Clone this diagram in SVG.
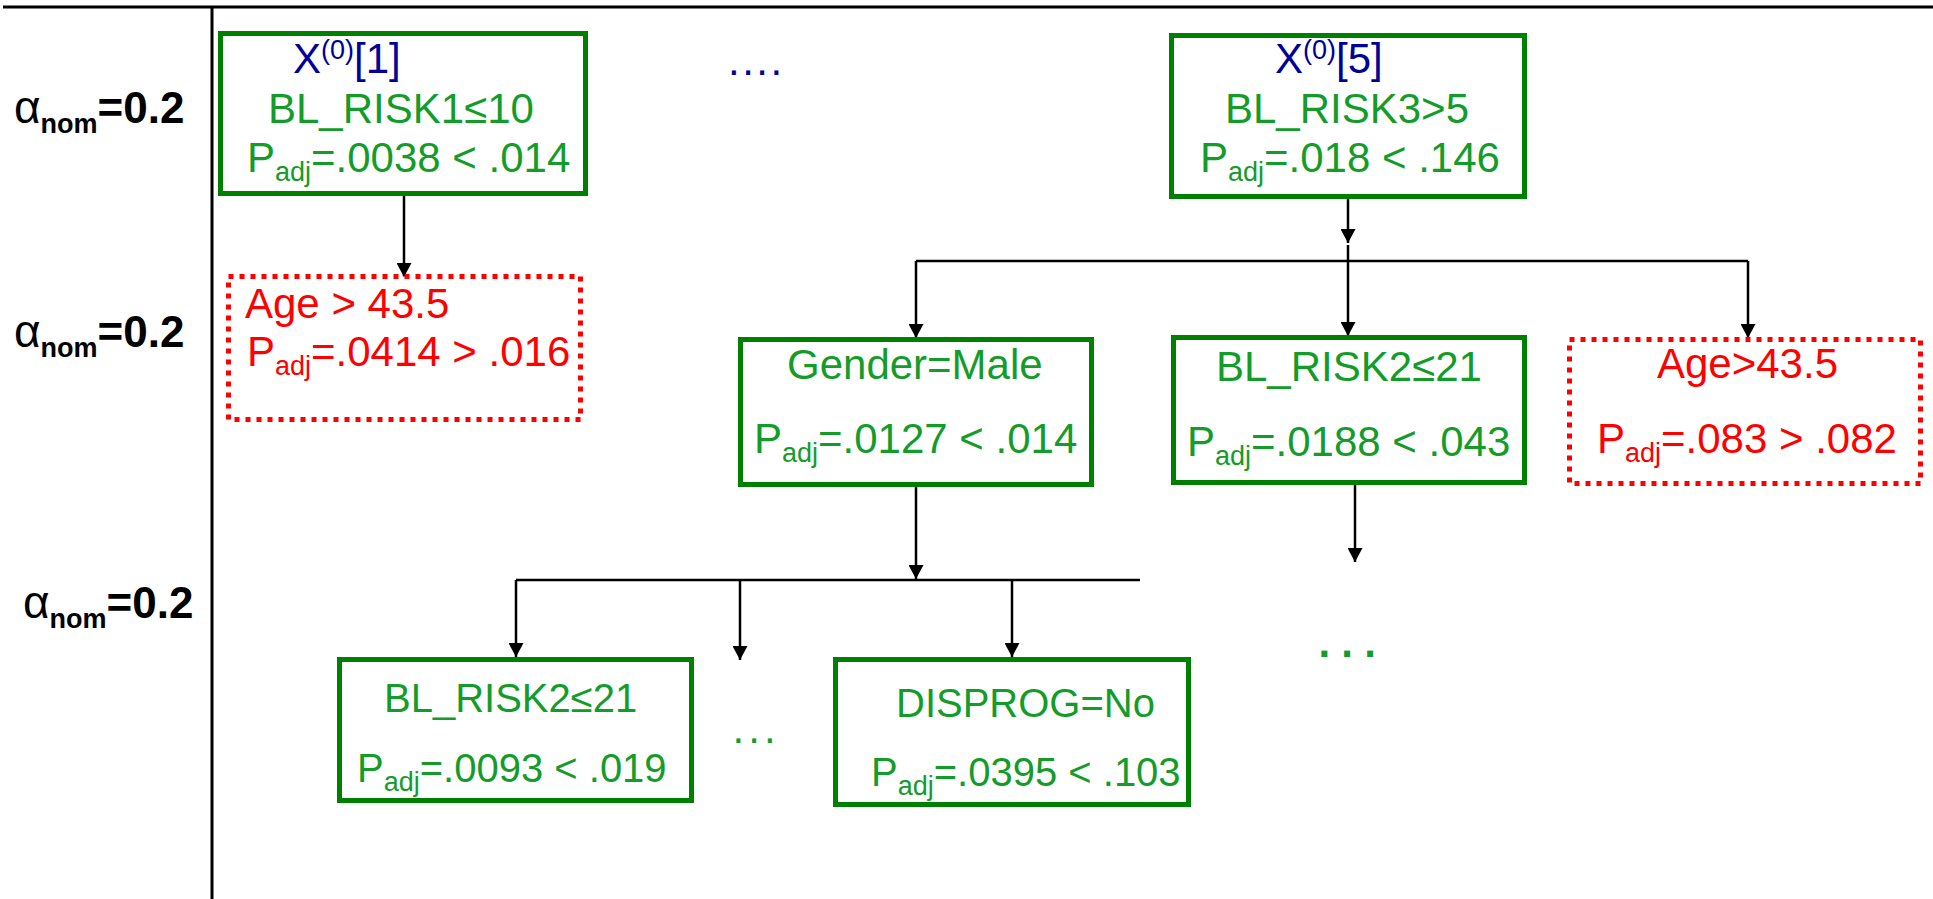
<svg xmlns="http://www.w3.org/2000/svg" width="1933" height="899" viewBox="0 0 1933 899">
<style>
text{font-family:"Liberation Sans",Arial,sans-serif;font-size:42px}
.g{fill:#139c2a}
.b{fill:#000099}
.r{fill:#ff0000}
.k{fill:#000;font-weight:bold;font-size:44px}
.al{font-weight:normal;font-size:46px}
.s{font-size:27px}
.sm{font-size:40px}
.ok{fill:#fff;stroke:#008000;stroke-width:5}
.bad{fill:#fff;stroke:#ff0000;stroke-width:5;stroke-dasharray:5 6}
.c{stroke:#000;stroke-width:2.5;fill:none}
.ca{stroke:#000;stroke-width:2.5;fill:none;marker-end:url(#ah)}
</style>
<defs>
<marker id="ah" viewBox="0 0 14 15" refX="14" refY="7.5" markerWidth="14" markerHeight="15" markerUnits="userSpaceOnUse" orient="auto">
<path d="M0,0 L14,7.5 L0,15 z" fill="#000"/>
</marker>
</defs>
<rect width="1933" height="899" fill="#fff"/>
<g id="frame">
<line x1="3" y1="7" x2="1933" y2="7" stroke="#000" stroke-width="3"/>
<line x1="212" y1="7" x2="212" y2="899" stroke="#000" stroke-width="3"/>
</g>
<g id="levels">
<text class="k" x="14" y="123"><tspan class="al">α</tspan><tspan class="s" dy="10">nom</tspan><tspan dy="-10">=0.2</tspan></text>
<text class="k" x="14" y="347"><tspan class="al">α</tspan><tspan class="s" dy="10">nom</tspan><tspan dy="-10">=0.2</tspan></text>
<text class="k" x="23" y="618"><tspan class="al">α</tspan><tspan class="s" dy="10">nom</tspan><tspan dy="-10">=0.2</tspan></text>
</g>
<g id="connectors">
<line class="ca" x1="404" y1="196" x2="404" y2="277"/>
<line class="ca" x1="1348" y1="199" x2="1348" y2="243"/>
<line class="c" x1="916" y1="261" x2="1748" y2="261"/>
<line class="ca" x1="1348" y1="245" x2="1348" y2="336"/>
<line class="ca" x1="916" y1="261" x2="916" y2="338"/>
<line class="ca" x1="1748" y1="261" x2="1748" y2="338"/>
<line class="ca" x1="916" y1="487" x2="916" y2="579"/>
<line class="c" x1="516" y1="580" x2="1140" y2="580"/>
<line class="ca" x1="516" y1="580" x2="516" y2="657"/>
<line class="ca" x1="740" y1="580" x2="740" y2="660"/>
<line class="ca" x1="1012" y1="580" x2="1012" y2="657"/>
<line class="ca" x1="1355" y1="485" x2="1355" y2="562"/>
</g>
<g id="node-x1">
<rect class="ok" x="220.5" y="33.5" width="365" height="160"/>
<text class="b" x="293" y="73">X<tspan class="s" dy="-14">(0)</tspan><tspan dy="14">[1]</tspan></text>
<text class="g" x="268" y="123">BL_RISK1≤10</text>
<text class="g" x="247" y="172">P<tspan class="s" dy="9">adj</tspan><tspan dy="-9">=.0038 &lt; .014</tspan></text>
</g>
<g id="ellipsis-top">
<text class="b" x="728" y="75" letter-spacing="2.5">....</text>
</g>
<g id="node-x5">
<rect class="ok" x="1171.5" y="35.5" width="353" height="161"/>
<text class="b" x="1275" y="73">X<tspan class="s" dy="-14">(0)</tspan><tspan dy="14">[5]</tspan></text>
<text class="g" x="1225" y="123">BL_RISK3&gt;5</text>
<text class="g" x="1200" y="172">P<tspan class="s" dy="9">adj</tspan><tspan dy="-9">=.018 &lt; .146</tspan></text>
</g>
<g id="node-age1">
<rect class="bad" x="228.5" y="276.5" width="352" height="143"/>
<text class="r" x="245" y="318">Age &gt; 43.5</text>
<text class="r" x="247" y="366">P<tspan class="s" dy="9">adj</tspan><tspan dy="-9">=.0414 &gt; .016</tspan></text>
</g>
<g id="node-gender">
<rect class="ok" x="740.5" y="339.5" width="351" height="145"/>
<text class="g" x="787" y="379">Gender=Male</text>
<text class="g" x="754" y="453">P<tspan class="s" dy="9">adj</tspan><tspan dy="-9">=.0127 &lt; .014</tspan></text>
</g>
<g id="node-risk2a">
<rect class="ok" x="1173.5" y="337.5" width="351" height="145"/>
<text class="g" x="1216" y="381">BL_RISK2≤21</text>
<text class="g" x="1187" y="456">P<tspan class="s" dy="9">adj</tspan><tspan dy="-9">=.0188 &lt; .043</tspan></text>
</g>
<g id="node-age2">
<rect class="bad" x="1569.5" y="339.5" width="351" height="144"/>
<text class="r" x="1657" y="378">Age&gt;43.5</text>
<text class="r" x="1597" y="453">P<tspan class="s" dy="9">adj</tspan><tspan dy="-9">=.083 &gt; .082</tspan></text>
</g>
<g id="node-risk2b">
<rect class="ok" x="339.5" y="659.5" width="352" height="141"/>
<text class="g sm" x="384" y="712">BL_RISK2≤21</text>
<text class="g sm" x="357" y="782">P<tspan class="s" dy="9">adj</tspan><tspan dy="-9">=.0093 &lt; .019</tspan></text>
</g>
<g id="ellipsis-bottom">
<text class="g" x="732.5" y="743" font-size="50" letter-spacing="4.1">...</text>
</g>
<g id="node-disprog">
<rect class="ok" x="835.5" y="659.5" width="353" height="145"/>
<text class="g sm" x="896" y="717">DISPROG=No</text>
<text class="g sm" x="871" y="786">P<tspan class="s" dy="9">adj</tspan><tspan dy="-9">=.0395 &lt; .103</tspan></text>
</g>
<g id="ellipsis-right">
<text class="g" x="1318.5" y="657" font-size="64" font-weight="bold" letter-spacing="11.2">...</text>
</g>
</svg>
